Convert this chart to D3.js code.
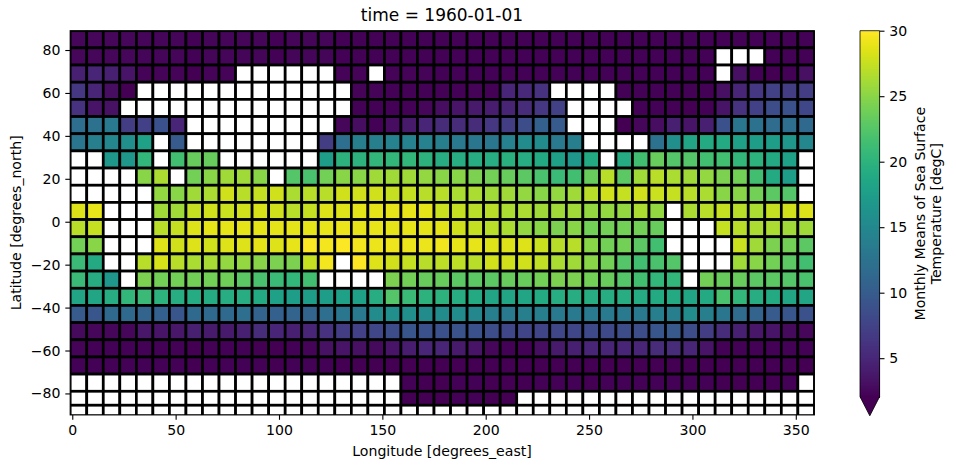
<!DOCTYPE html>
<html><head><meta charset="utf-8">
<script src="https://cdn.jsdelivr.net/npm/d3@7"></script>
<style>html,body{margin:0;padding:0;background:#fff}svg{display:block}text{font-family:"DejaVu Sans",sans-serif;fill:#000}</style>
</head><body><svg id="c" width="956" height="469"></svg>
<script>
const lons=[3,11,19,27,35,43,51,59,67,75,83,91,99,107,115,123,131,139,147,155,163,171,179,187,195,203,211,219,227,235,243,251,259,267,275,283,291,299,307,315,323,331,339,347,355];
const lats=[85,77,69,61,53,45,37,29,21,13,5,-3,-11,-19,-27,-35,-43,-51,-59,-67,-75,-83,-88];
const xTicks=[0,50,100,150,200,250,300,350];
const yTicks=[-80,-60,-40,-20,0,20,40,60,80];
const cbTicks=[5,10,15,20,25,30];
const _=null;
const sst=[
[2.5,2.5,2.5,2.5,2.4,2.4,2.4,2.2,2.4,2.4,2.4,2.4,2.2,2.4,2.4,2.4,2.2,2.2,2.2,2.2,2.2,2.2,2.2,2.2,2.2,2.2,2.2,2.2,2.2,2.2,2.2,2.2,2.2,2.2,2.2,2.2,2.2,2.2,2.2,2.2,2.2,2.2,2.2,2.2,2.2],
[2.5,2.5,2.5,2.5,2.4,2.4,2.4,2.2,2.4,2.4,2.4,2.4,2.2,2.4,2.4,2.4,2.2,2.2,2.2,2.2,2.2,2.2,2.2,2.2,2.2,2.2,2.2,2.2,2.2,2.2,2.2,2.2,2.2,2.2,2.2,2.2,2.2,2.2,2.2,_,_,_,2.2,2.2,2.2],
[4.5,5,4.5,3.5,2.3,2.3,2.3,2.1,2.3,2.3,_,_,_,_,_,_,2.3,2.3,_,2.3,2.3,2.3,2.2,2.2,2.2,2.2,2.2,2.2,2.2,2.2,2.2,2.2,2.2,2.2,2.2,2.2,2.2,2.2,2.2,_,3.2,2.2,2.1,2.2,3.2],
[6.5,5,3,2.1,_,_,_,_,_,_,_,_,_,_,_,_,_,2.3,2.3,2.2,2.2,2.2,2.2,2.2,2.3,2.2,5,5.2,6,_,_,_,_,2.2,2.2,2.2,2.2,2.2,2.2,3.2,5,6.5,7.5,7,7],
[6,3.5,3.3,_,_,_,_,_,_,_,_,_,_,_,_,_,_,2.2,2.2,2.2,2.2,2.5,3,3.5,4,4.2,4.8,5.5,6.5,7.5,_,_,_,_,2.2,2.2,2.2,2.1,2.2,3.5,6,7.3,8.5,9,8],
[12,12.5,13.5,7,7.3,9,5,_,_,_,_,_,_,_,_,_,2.5,3,2.2,3,4,5,5.5,5.5,5.5,6.5,7,8.5,10.5,10,_,_,_,2.1,2.5,3,4.5,3.5,4.5,9,13,12.5,11.8,12,11.5],
[13,14,15,16,18,_,10,_,_,_,_,_,_,_,_,7,12,14,14,14.5,14.5,14.5,14,13.5,13,13,14.5,15.5,15.5,13.5,14,_,_,_,_,12.5,16,18.5,19,19,18,17.5,17.5,17,15],
[_,_,17,17,20.5,_,21.5,23.5,23.5,_,_,_,_,_,_,17.5,20,20,20.5,20.5,20.5,20,19.5,19.5,19.5,19.5,19.8,19.5,19,18,17,19,_,19.2,21.5,23.5,22.5,22.5,21.5,21.5,20.5,20,19,18,_],
[_,_,_,_,25,26.5,_,24,25,26,26,25,_,22.5,22,24,25,25,26,26,26,25.5,25,25,24.5,24,23.5,23,22,21,21.5,23.5,27,23,26,27,26.5,26,25.5,24.5,24,21.5,19,17.5,_],
[_,_,_,_,_,25.5,25,26,26.5,28,27,27.5,28,26.5,27,27,28,28,28,27.5,27.5,27,27,26.5,26.5,26,26,25.5,25,25.5,26,27,28,27.5,28,27.8,27.5,27,26.5,25,25,24,23,22.5,_],
[28.5,29,_,_,_,26,26,27.5,28,27.8,28,28.3,28,27,27.5,28.5,28.5,28.8,28.8,29,29,28.8,27.8,27.5,27,27,26.5,26.5,26,26,26,25.5,25.5,25.5,26.5,25.5,_,26.5,27,27.5,27,26.5,27.5,28,28.5],
[27,27.5,_,_,_,27,27.5,28.5,28.8,28.8,28.8,28.8,28.8,28.8,29,29,29.2,29,29,28.8,29,28.8,28.8,28,27.5,27,26.5,25.5,25,24.5,25,24,24,24,24,23.5,_,_,_,27.5,27,26.5,26.5,26,26],
[24,25,_,_,_,28.5,28,28.5,28,28.5,28.5,28.8,28.5,29,29.8,29.5,29.8,29.5,29.2,29.3,29.2,29.2,29.4,29,29,28.5,28.5,28.5,27.8,27,27,25,24,24,23,21.5,_,_,_,_,27.8,26,24.5,24,23],
[21,19,_,_,27,28.3,27,26.5,26.3,25.5,25.5,25,24.5,24.5,27.5,29.5,_,30,28.5,28,27.5,27,27.2,27.2,27,28,28,28,27.3,26.5,26,25,24,22.5,21.5,22,22.5,_,_,_,26,25,24,23,21.5],
[21,19.5,17,_,24.5,24,24,24,24,23.8,23,22,21,20.5,21.5,_,_,_,_,24.5,24,23.5,23.5,23,23,23,23.5,23.5,24,24.5,24.5,24,23.5,22.5,21.5,20.5,20.5,_,24,23.5,23.5,23,23,22.5,22],
[18.5,18.5,19.5,20.5,21,20,19.5,19.2,19.2,19.5,19.5,19,18,17.5,17.5,17.5,18,18,19.5,22.5,21,20,20,19.5,19,18.5,18.5,18.5,19,19.5,19.5,19.5,19.5,19.5,19.3,19,19,18.5,19,22,20.5,19.5,19,18.5,18.5],
[10,9.5,11.5,11.5,11,10.5,9.5,11.5,11.5,11.5,12,11,10.5,11,11,12,13,13.5,15.5,16,16,15.5,15.5,15.5,15,14,13.5,14,14,13.5,13.5,13.5,13.5,13.5,13.5,14,14,15.5,14,13,11.8,11,10,9.5,9],
[2.8,2.5,2.5,2.6,3.8,3.5,3.8,4.5,4,4,4.5,5.5,5,4.5,5,6,7,7.3,8,8.5,9.5,9,9,9.2,9,8.5,8,7.8,7.8,8,8,8.2,8.2,8.5,8.5,9.5,9.8,8.5,7,5.5,4.5,3.8,3.5,2.8,2.5],
[2.3,2.2,2.2,2.2,2.2,2.2,2.2,2.1,2.2,2.2,2.2,2.1,2.1,2.2,2.3,3.3,3.5,3.2,2.8,3.5,4.2,5,5,4,3.5,2.5,2.2,2.2,3,4,4.5,5,5,5,5,5.5,5.5,5,3.5,2.2,2.2,2.2,2.2,2.2,2.2],
[2.2,2.2,2.2,2.2,2.2,2.2,2.2,2.1,2.2,2.2,2.2,2.2,2.1,2.2,2.2,2.2,2.1,2.1,2.1,2.1,2.1,2.1,2.1,2.1,2.1,2.1,2.1,2.1,2.1,2.1,2.1,2.1,2.1,2.1,2.1,2.1,2.1,2.1,2.1,2.1,2.1,2.1,2.1,2.1,2.1],
[_,_,_,_,_,_,_,_,_,_,_,_,_,_,_,_,_,_,_,_,2.2,2.1,2.1,2.2,2.2,2.1,2.1,2.1,2.2,2.2,2.2,2.1,2.2,2.2,2.2,2.2,2.2,2.2,2.2,2.1,2.1,2.1,2.1,2.2,_],
[_,_,_,_,_,_,_,_,_,_,_,_,_,_,_,_,_,_,_,_,2.1,2.1,2.1,2.2,2.2,2.1,2.1,_,_,_,_,_,_,_,_,_,_,_,_,_,_,_,_,_,_],
[_,_,_,_,_,_,_,_,_,_,_,_,_,_,_,_,_,_,_,_,_,_,_,_,_,_,_,_,_,_,_,_,_,_,_,_,_,_,_,_,_,_,_,_,_]
];
const title="time = 1960-01-01", xLabel="Longitude [degrees_east]", yLabel="Latitude [degrees_north]";
const cbLabel=["Monthly Means of Sea Surface","Temperature [degC]"];

const svg=d3.select("#c");
const L=70.2,R=814.4,T=30.7,B=414.9;
const x=d3.scaleLinear().domain([-1,359]).range([L,R]);
const y=d3.scaleLinear().domain([-90,89]).range([B,T]);
const vmin=2.06,vmax=30;
const color=d3.scaleSequential(d3.interpolateViridis).domain([vmin,vmax]).clamp(true);

// cell edges are midpoints of the coordinates
function edges(c){const e=[];for(let i=0;i<c.length;i++){
  const prev=i>0?(c[i-1]+c[i])/2:c[0]-(c[1]-c[0])/2;
  const next=i<c.length-1?(c[i]+c[i+1])/2:c[i]+(c[i]-c[i-1])/2;
  e.push([prev,next]);}return e;}
const xe=edges(lons), ye=edges(lats);

svg.append("defs").append("clipPath").attr("id","ax").append("rect")
  .attr("x",L).attr("y",T).attr("width",R-L).attr("height",B-T);
const g=svg.append("g").attr("clip-path","url(#ax)");
const cells=[];
sst.forEach((row,j)=>row.forEach((v,i)=>cells.push({i,j,v})));
g.selectAll("rect").data(cells).join("rect")
  .attr("x",d=>x(xe[d.i][0])).attr("width",d=>x(xe[d.i][1])-x(xe[d.i][0]))
  .attr("y",d=>y(ye[d.j][0])).attr("height",d=>y(ye[d.j][1])-y(ye[d.j][0]))
  .attr("fill",d=>d.v===null?"#fff":color(d.v))
  .attr("stroke","#000").attr("stroke-width",2.7);

const fs=14.1;
const xa=svg.append("g").attr("transform",`translate(0,${B})`).call(d3.axisBottom(x).tickValues(xTicks).tickSize(4.9).tickPadding(5).tickFormat(d3.format("d")));
const ya=svg.append("g").attr("transform",`translate(${L},0)`).call(d3.axisLeft(y).tickValues(yTicks).tickSize(4.9).tickPadding(4.8).tickFormat(d=>String(d).replace("-","\u2212")));
[xa,ya].forEach(a=>{a.selectAll("text").style("font-size",fs+"px").style("font-family",'"DejaVu Sans"');
  a.selectAll("line").attr("stroke","#000").attr("stroke-width",1.1);a.select(".domain").remove();});
svg.append("rect").attr("x",L).attr("y",T).attr("width",R-L).attr("height",B-T).attr("fill","none").attr("stroke","#000").attr("stroke-width",1.1);

svg.append("text").attr("x",442).attr("y",21).attr("text-anchor","middle").style("font-size","17px").text(title);
svg.append("text").attr("x",442).attr("y",456).attr("text-anchor","middle").style("font-size",fs+"px").text(xLabel);
svg.append("text").attr("transform",`translate(21,${(T+B)/2}) rotate(-90)`).attr("text-anchor","middle").style("font-size",fs+"px").text(yLabel);

// colour bar
const cL=860,cR=879.6,cT=30.7,cB=396.7,tip=415.8;
const cy=d3.scaleLinear().domain([vmin,vmax]).range([cB,cT]);
const cg=svg.append("g");
const steps=d3.range(256).map(k=>vmin+(vmax-vmin)*k/255);
cg.selectAll("rect").data(steps).join("rect")
  .attr("x",cL).attr("width",cR-cL)
  .attr("y",(d,k)=>cB-(cB-cT)*(k+1)/256).attr("height",(cB-cT)/256+1)
  .attr("fill",d=>color(d)).attr("shape-rendering","crispEdges");
const cm=(cL+cR)/2;
cg.append("path").attr("d",`M${cL},${cB}L${cm},${tip}L${cR},${cB}Z`).attr("fill",color(vmin));
cg.append("path").attr("d",`M${cL},${cT}L${cR},${cT}L${cR},${cB}L${cm},${tip}L${cL},${cB}Z`)
  .attr("fill","none").attr("stroke","#000").attr("stroke-width",0.8);
const ca=svg.append("g").attr("transform",`translate(${cR},0)`).call(d3.axisRight(cy).tickValues(cbTicks).tickSize(4.9).tickPadding(4.8).tickFormat(d3.format("d")));
ca.selectAll("text").style("font-size",fs+"px").style("font-family",'"DejaVu Sans"');
ca.selectAll("line").attr("stroke","#000").attr("stroke-width",1.1);ca.select(".domain").remove();
const lab=svg.append("text").attr("transform",`translate(925,${(cT+cB)/2}) rotate(-90)`).attr("text-anchor","middle").style("font-size",fs+"px");
cbLabel.forEach((t,k)=>lab.append("tspan").attr("x",0).attr("y",k*16.2).text(t));
</script></body></html>
